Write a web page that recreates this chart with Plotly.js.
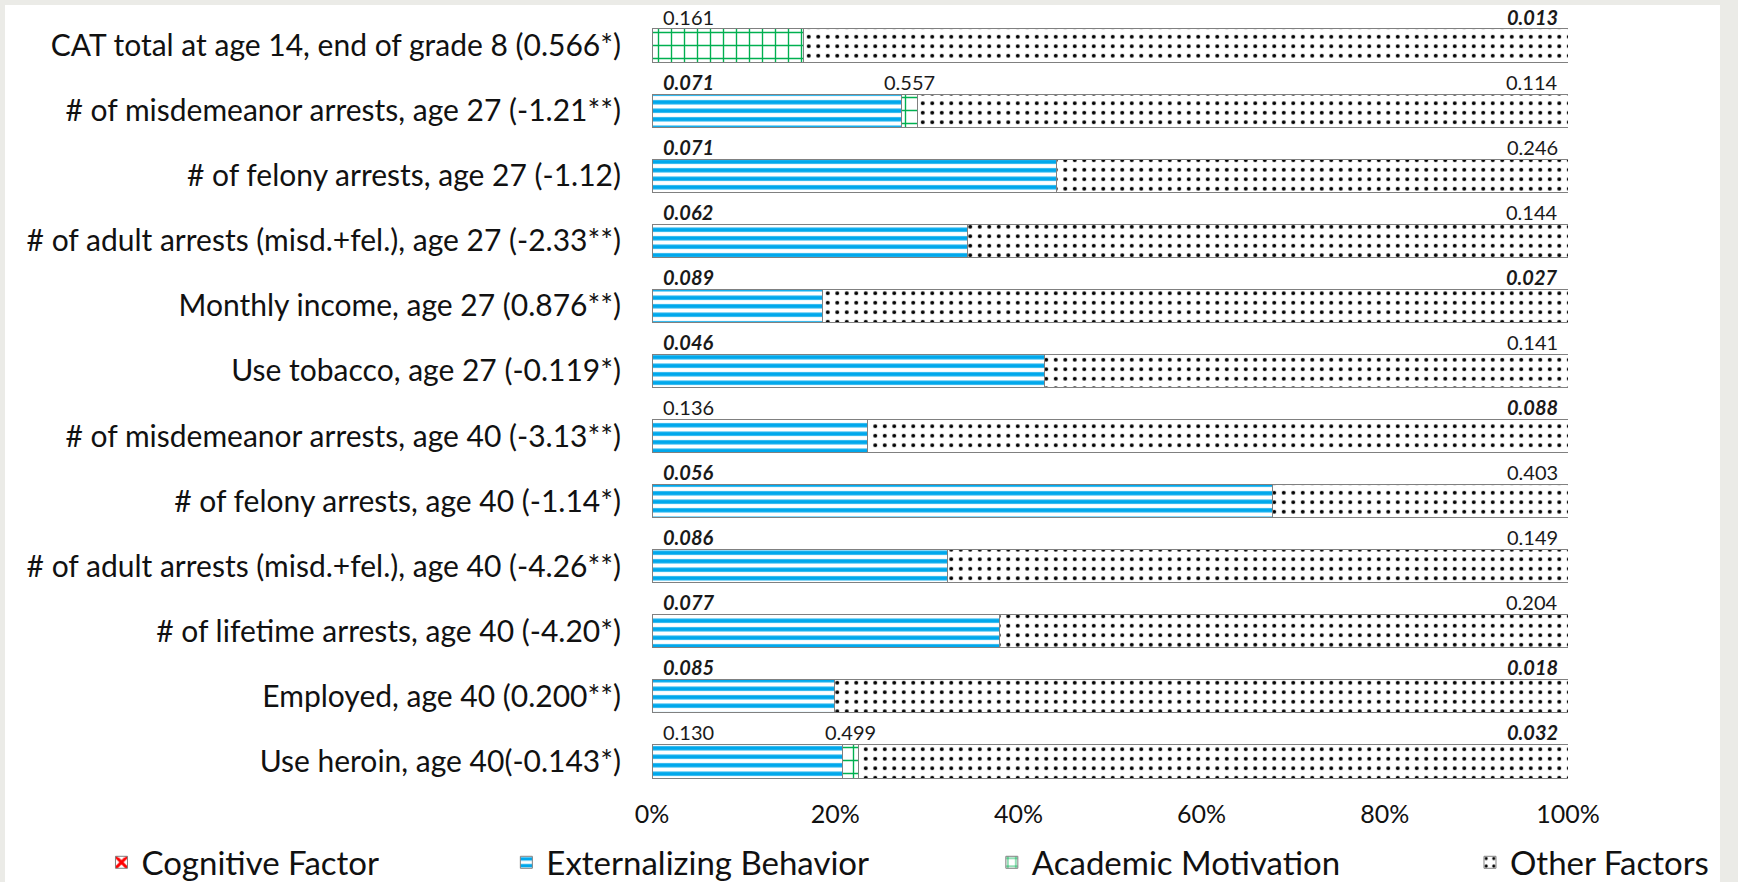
<!DOCTYPE html>
<html>
<head>
<meta charset="utf-8">
<script src="https://cdn.plot.ly/plotly-3.0.1.min.js"></script>
<style>
  html, body { margin: 0; padding: 0; background: #ebebe7; width: 1738px; height: 882px; overflow: hidden; }
  #paper { position: absolute; left: 5px; top: 5px; width: 1715px; height: 877px; background: #ffffff; }
  #chart { position: absolute; left: 5px; top: 0px; width: 1715px; height: 882px; }
</style>
</head>
<body>
<div id="paper"></div>
<div id="chart"></div>
<script>
// ---- data ----
const categories = [
  "CAT total at age 14, end of grade 8 (0.566*)",
  "# of misdemeanor arrests, age 27 (-1.21**)",
  "# of felony arrests, age 27 (-1.12)",
  "# of adult arrests (misd.+fel.), age 27 (-2.33**)",
  "Monthly income, age 27 (0.876**)",
  "Use tobacco, age 27 (-0.119*)",
  "# of misdemeanor arrests, age 40 (-3.13**)",
  "# of felony arrests, age 40 (-1.14*)",
  "# of adult arrests (misd.+fel.), age 40 (-4.26**)",
  "# of lifetime arrests, age 40 (-4.20*)",
  "Employed, age 40 (0.200**)",
  "Use heroin, age 40(-0.143*)"
];
const cognitive     = [0, 0, 0, 0, 0, 0, 0, 0, 0, 0, 0, 0];
const externalizing = [0, 27.2, 44.2, 34.4, 18.6, 42.8, 23.5, 67.7, 32.3, 37.9, 19.9, 20.8];
const academic      = [16.5, 1.8, 0, 0, 0, 0, 0, 0, 0, 0, 0, 1.7];
const other         = [83.5, 71.0, 55.8, 65.6, 81.4, 57.2, 76.5, 32.3, 67.7, 62.1, 80.1, 77.5];

// value labels shown above the bars and whether they are bold-italic (significant)
const firstLabel  = ["0.161", "0.071", "0.071", "0.062", "0.089", "0.046", "0.136", "0.056", "0.086", "0.077", "0.085", "0.130"];
const firstSig    = [false, true, true, true, true, true, false, true, true, true, true, false];
const acadLabel   = ["", "0.557", "", "", "", "", "", "", "", "", "", "0.499"];
const otherLabel  = ["0.013", "0.114", "0.246", "0.144", "0.027", "0.141", "0.088", "0.403", "0.149", "0.204", "0.018", "0.032"];
const otherSig    = [true, false, false, false, true, false, true, false, false, false, true, true];

const seriesNames = ["Cognitive Factor", "Externalizing Behavior", "Academic Motivation", "Other Factors"];
const xTicks = [0, 20, 40, 60, 80, 100];

// ---- chart ----
const FONT = "Lato, 'Open Sans', sans-serif";
const outline = { color: "#808080", width: 1 };

const traces = [
  {
    type: "bar", orientation: "h", name: seriesNames[0], y: categories, x: cognitive,
    legend: "legend",
    marker: { color: "#ffffff", line: outline,
      pattern: { shape: "x", fgcolor: "#ff0000", bgcolor: "#ffffff", size: 10, solidity: 0.6 } },
    hoverinfo: "skip"
  },
  {
    type: "bar", orientation: "h", name: seriesNames[1], y: categories, x: externalizing,
    legend: "legend2",
    marker: { color: "#ffffff", line: outline,
      pattern: { shape: "-", fgcolor: "#00a8ec", bgcolor: "#ffffff", size: 8.5, solidity: 0.5 } },
    hoverinfo: "skip"
  },
  {
    type: "bar", orientation: "h", name: seriesNames[2], y: categories, x: academic,
    legend: "legend3",
    marker: { color: "#ffffff", line: outline,
      pattern: { shape: "+", fgcolor: "#00b050", bgcolor: "#ffffff", size: 13, solidity: 0.2 } },
    hoverinfo: "skip"
  },
  {
    type: "bar", orientation: "h", name: seriesNames[3], y: categories, x: other,
    legend: "legend4",
    marker: { color: "#ffffff", line: outline,
      pattern: { shape: ".", fgcolor: "#000000", bgcolor: "#ffffff", size: 9.5, solidity: 0.14 } },
    hoverinfo: "skip"
  }
];

const annotations = [];
const fmt = (t, sig) => sig ? "<b><i>" + t + "</i></b>" : t;
const annFont = { family: FONT, size: 20, color: "#1a1a1a" };
categories.forEach((c, i) => {
  annotations.push({ x: 0, y: c, xref: "x", yref: "y", text: fmt(firstLabel[i], firstSig[i]),
    showarrow: false, xanchor: "left", yanchor: "middle", xshift: 9, yshift: 29, font: annFont });
  if (acadLabel[i]) {
    annotations.push({ x: externalizing[i] + academic[i] / 2, y: c, xref: "x", yref: "y", text: acadLabel[i],
      showarrow: false, xanchor: "center", yanchor: "middle", yshift: 29, font: annFont });
  }
  annotations.push({ x: 100, y: c, xref: "x", yref: "y", text: fmt(otherLabel[i], otherSig[i]),
    showarrow: false, xanchor: "right", yanchor: "middle", xshift: -8, yshift: 29, font: annFont });
});

const legendBase = {
  orientation: "h", yanchor: "middle", xanchor: "left", y: -0.0875,
  bgcolor: "rgba(0,0,0,0)", borderwidth: 0,
  font: { family: FONT, size: 33, color: "#111111" }
};

const layout = {
  width: 1715, height: 882,
  margin: { l: 647, r: 152, t: 13, b: 88, pad: 0, autoexpand: false },
  paper_bgcolor: "rgba(0,0,0,0)", plot_bgcolor: "rgba(0,0,0,0)",
  barmode: "stack", bargap: 0.49,
  showlegend: true,
  legend:  Object.assign({}, legendBase, { x: -0.601 }),
  legend2: Object.assign({}, legendBase, { x: -0.159 }),
  legend3: Object.assign({}, legendBase, { x: 0.371 }),
  legend4: Object.assign({}, legendBase, { x: 0.893 }),
  xaxis: {
    range: [0, 100], tickvals: xTicks, ticktext: xTicks.map(v => v + "%"),
    showgrid: false, zeroline: false, showline: false, ticks: "",
    ticklabelstandoff: 3,
    tickfont: { family: FONT, size: 25, color: "#111111" }, fixedrange: true
  },
  yaxis: {
    type: "category", range: [categories.length - 0.5, -0.5], autorange: false,
    showgrid: false, zeroline: false, showline: false, ticks: "",
    ticklabelstandoff: 30,
    tickfont: { family: FONT, size: 30, color: "#111111" }, fixedrange: true
  },
  annotations: annotations,
  font: { family: FONT }
};

Plotly.newPlot("chart", traces, layout, { displayModeBar: false, staticPlot: true });
</script>
</body>
</html>
